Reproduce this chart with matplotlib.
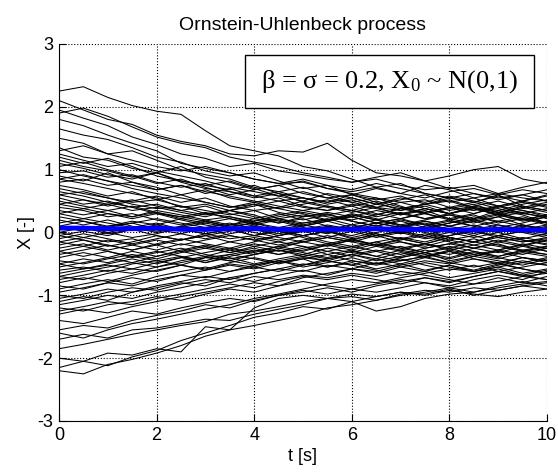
import matplotlib
matplotlib.use('Agg')
import matplotlib.pyplot as plt
from matplotlib.patches import Rectangle

# time grid [s]
t = [0.0, 0.5, 1.0, 1.5, 2.0, 2.5, 3.0, 3.5, 4.0, 4.5, 5.0,
     5.5, 6.0, 6.5, 7.0, 7.5, 8.0, 8.5, 9.0, 9.5, 10.0]

# sample paths (outer ones traced, inner band estimated)
paths = [
    [2.25, 2.32, 2.15, 2.02, 1.93, 1.88, 1.62, 1.38, 1.30, 1.22, 1.05, 0.98, 0.85, 0.72, 0.78, 0.62, 0.55, 0.48, 0.60, 0.42, 0.35],
    [2.10, 1.95, 1.80, 1.72, 1.55, 1.45, 1.38, 1.25, 1.22, 1.30, 1.28, 1.42, 1.15, 0.95, 0.90, 0.82, 0.70, 0.75, 0.62, 0.55, 0.50],
    [1.95, 1.82, 1.70, 1.52, 1.40, 1.25, 1.18, 1.05, 1.10, 0.98, 0.92, 0.85, 0.80, 0.88, 0.95, 0.82, 0.90, 1.00, 1.05, 0.85, 0.78],
    [1.80, 1.70, 1.55, 1.42, 1.30, 1.10, 1.02, 0.95, 0.85, 0.78, 0.80, 0.70, 0.62, 0.55, 0.48, 0.52, 0.40, 0.35, 0.42, 0.30, 0.25],
    [1.65, 1.55, 1.48, 1.35, 1.20, 1.12, 0.98, 0.90, 0.95, 0.82, 0.70, 0.75, 0.60, 0.52, 0.58, 0.45, 0.50, 0.38, 0.30, 0.40, 0.32],
    [1.50, 1.42, 1.25, 1.30, 1.15, 1.00, 0.92, 0.85, 0.72, 0.65, 0.72, 0.60, 0.48, 0.55, 0.42, 0.30, 0.38, 0.45, 0.32, 0.20, 0.28],
    [1.35, 1.20, 1.15, 1.02, 0.95, 1.05, 0.88, 0.80, 0.68, 0.75, 0.62, 0.55, 0.60, 0.48, 0.35, 0.42, 0.30, 0.22, 0.35, 0.28, 0.15],
    [1.20, 1.10, 1.18, 1.05, 0.90, 0.82, 0.75, 0.82, 0.70, 0.58, 0.50, 0.62, 0.55, 0.45, 0.52, 0.60, 0.48, 0.55, 0.42, 0.50, 0.58],
    [1.10, 1.02, 0.92, 0.85, 0.95, 0.80, 0.70, 0.65, 0.55, 0.62, 0.48, 0.40, 0.32, 0.40, 0.28, 0.35, 0.22, 0.15, 0.25, 0.12, 0.05],
    [1.05, 1.12, 1.00, 0.90, 0.78, 0.85, 0.72, 0.60, 0.68, 0.75, 0.82, 0.70, 0.65, 0.72, 0.62, 0.55, 0.65, 0.70, 0.60, 0.68, 0.62],
    [1.00, 0.90, 0.82, 0.70, 0.62, 0.55, 0.48, 0.40, 0.45, 0.32, 0.25, 0.30, 0.18, 0.10, 0.20, 0.12, 0.05, -0.05, 0.08, 0.00, -0.08],
    [0.95, 0.98, 0.88, 0.92, 0.80, 0.72, 0.78, 0.65, 0.58, 0.50, 0.55, 0.45, 0.52, 0.40, 0.35, 0.45, 0.52, 0.40, 0.32, 0.38, 0.45],
    [0.85, 0.78, 0.70, 0.62, 0.55, 0.40, 0.45, 0.35, 0.28, 0.15, 0.22, 0.10, 0.05, 0.12, -0.02, 0.05, -0.08, -0.15, -0.05, -0.12, -0.20],
    [0.80, 0.85, 0.75, 0.80, 0.68, 0.75, 0.62, 0.70, 0.58, 0.65, 0.55, 0.48, 0.60, 0.70, 0.62, 0.75, 0.68, 0.55, 0.62, 0.72, 0.80],
    [0.70, 0.62, 0.55, 0.48, 0.52, 0.42, 0.35, 0.28, 0.35, 0.22, 0.15, 0.20, 0.30, 0.22, 0.12, 0.05, 0.15, 0.25, 0.18, 0.10, 0.18],
    [0.60, 0.65, 0.55, 0.45, 0.38, 0.42, 0.30, 0.35, 0.45, 0.38, 0.30, 0.20, 0.25, 0.15, 0.22, 0.32, 0.40, 0.30, 0.42, 0.35, 0.25],
    [0.55, 0.45, 0.50, 0.40, 0.30, 0.25, 0.18, 0.10, 0.15, 0.05, -0.05, 0.02, -0.10, -0.05, -0.15, -0.22, -0.12, -0.20, -0.28, -0.18, -0.25],
    [0.45, 0.52, 0.42, 0.50, 0.58, 0.48, 0.55, 0.42, 0.35, 0.40, 0.50, 0.42, 0.35, 0.28, 0.38, 0.30, 0.22, 0.30, 0.40, 0.48, 0.40],
    [0.40, 0.35, 0.25, 0.30, 0.20, 0.12, 0.20, 0.25, 0.15, 0.08, 0.15, 0.22, 0.12, 0.05, 0.10, 0.18, 0.10, 0.02, -0.05, 0.02, 0.10],
    [0.30, 0.38, 0.45, 0.35, 0.40, 0.32, 0.25, 0.35, 0.42, 0.50, 0.40, 0.35, 0.45, 0.38, 0.30, 0.22, 0.28, 0.18, 0.25, 0.32, 0.22],
    [0.25, 0.18, 0.10, 0.15, 0.05, -0.02, 0.08, -0.05, -0.12, -0.05, 0.02, -0.08, -0.15, -0.22, -0.15, -0.25, -0.18, -0.10, -0.20, -0.28, -0.22],
    [0.15, 0.22, 0.30, 0.25, 0.35, 0.28, 0.20, 0.12, 0.18, 0.25, 0.32, 0.25, 0.18, 0.10, 0.18, 0.08, 0.15, 0.22, 0.30, 0.22, 0.15],
    [0.10, 0.02, -0.05, 0.05, 0.12, 0.05, -0.02, -0.10, -0.05, 0.05, 0.12, 0.20, 0.28, 0.20, 0.30, 0.38, 0.30, 0.42, 0.35, 0.45, 0.52],
    [0.05, 0.10, 0.00, -0.08, -0.02, 0.08, 0.15, 0.08, 0.00, -0.08, -0.15, -0.08, 0.02, 0.08, 0.00, -0.10, -0.05, 0.05, 0.12, 0.05, -0.02],
    [0.00, -0.08, -0.15, -0.10, -0.20, -0.12, -0.05, -0.15, -0.22, -0.30, -0.22, -0.35, -0.28, -0.38, -0.45, -0.38, -0.30, -0.42, -0.50, -0.40, -0.45],
    [-0.05, 0.02, 0.10, 0.18, 0.12, 0.22, 0.30, 0.25, 0.18, 0.28, 0.35, 0.28, 0.20, 0.28, 0.38, 0.45, 0.55, 0.48, 0.58, 0.50, 0.60],
    [-0.15, -0.22, -0.12, -0.20, -0.28, -0.18, -0.25, -0.15, -0.08, -0.15, -0.05, 0.02, -0.05, 0.05, -0.02, 0.08, 0.00, -0.08, 0.00, 0.08, 0.00],
    [-0.20, -0.12, -0.22, -0.15, -0.05, -0.12, -0.02, 0.05, -0.05, 0.02, -0.08, -0.18, -0.10, -0.20, -0.12, -0.05, -0.15, -0.25, -0.18, -0.30, -0.25],
    [-0.30, -0.38, -0.30, -0.40, -0.32, -0.25, -0.35, -0.42, -0.35, -0.28, -0.38, -0.30, -0.22, -0.30, -0.40, -0.32, -0.45, -0.38, -0.30, -0.40, -0.48],
    [-0.35, -0.28, -0.20, -0.28, -0.18, -0.10, -0.18, -0.25, -0.15, -0.05, 0.05, -0.02, 0.08, 0.15, 0.08, 0.18, 0.10, 0.20, 0.28, 0.18, 0.25],
    [-0.45, -0.50, -0.42, -0.35, -0.42, -0.32, -0.25, -0.32, -0.22, -0.15, -0.22, -0.30, -0.38, -0.30, -0.22, -0.32, -0.25, -0.35, -0.28, -0.20, -0.30],
    [-0.50, -0.42, -0.48, -0.38, -0.30, -0.38, -0.45, -0.35, -0.42, -0.50, -0.42, -0.55, -0.48, -0.58, -0.50, -0.60, -0.52, -0.62, -0.55, -0.65, -0.58],
    [-0.60, -0.55, -0.62, -0.50, -0.45, -0.52, -0.40, -0.35, -0.28, -0.35, -0.25, -0.18, -0.25, -0.15, -0.08, -0.15, -0.05, 0.02, -0.08, -0.15, -0.10],
    [-0.70, -0.75, -0.65, -0.58, -0.62, -0.52, -0.58, -0.48, -0.40, -0.48, -0.42, -0.35, -0.45, -0.52, -0.45, -0.38, -0.48, -0.55, -0.48, -0.58, -0.65],
    [-0.75, -0.68, -0.60, -0.65, -0.55, -0.48, -0.40, -0.45, -0.35, -0.28, -0.35, -0.25, -0.32, -0.22, -0.30, -0.38, -0.28, -0.35, -0.42, -0.32, -0.38],
    [-0.85, -0.90, -0.80, -0.85, -0.75, -0.68, -0.72, -0.62, -0.55, -0.62, -0.52, -0.45, -0.52, -0.60, -0.68, -0.62, -0.72, -0.65, -0.58, -0.68, -0.75],
    [-0.95, -0.88, -0.80, -0.72, -0.78, -0.68, -0.60, -0.52, -0.58, -0.48, -0.40, -0.45, -0.35, -0.28, -0.35, -0.25, -0.18, -0.25, -0.15, -0.22, -0.12],
    [-1.00, -1.05, -0.95, -0.88, -0.92, -0.82, -0.75, -0.80, -0.70, -0.75, -0.68, -0.72, -0.65, -0.70, -0.62, -0.68, -0.75, -0.82, -0.72, -0.80, -0.70],
    [-1.10, -1.02, -1.08, -0.95, -0.88, -0.80, -0.85, -0.72, -0.65, -0.58, -0.50, -0.55, -0.45, -0.50, -0.40, -0.32, -0.40, -0.30, -0.38, -0.28, -0.35],
    [-1.20, -1.25, -1.15, -1.10, -1.02, -1.08, -0.98, -0.90, -0.95, -0.85, -0.78, -0.85, -0.90, -0.82, -0.75, -0.80, -0.88, -0.95, -0.85, -0.78, -0.85],
    [-1.30, -1.22, -1.28, -1.18, -1.10, -1.02, -0.95, -0.88, -0.80, -0.85, -0.72, -0.65, -0.58, -0.62, -0.52, -0.45, -0.50, -0.42, -0.48, -0.40, -0.45],
    [-1.40, -1.45, -1.35, -1.25, -1.30, -1.20, -1.12, -1.05, -1.10, -1.00, -0.92, -0.98, -0.90, -0.95, -0.88, -0.80, -0.85, -0.75, -0.68, -0.75, -0.62],
    [-1.55, -1.48, -1.52, -1.40, -1.32, -1.25, -1.15, -1.20, -1.08, -1.00, -0.95, -0.88, -0.95, -0.85, -0.78, -0.72, -0.78, -0.70, -0.62, -0.68, -0.60],
    [-1.70, -1.62, -1.68, -1.55, -1.52, -1.45, -1.38, -1.40, -1.30, -1.22, -1.15, -1.05, -1.02, -1.08, -0.98, -0.92, -0.95, -0.88, -0.92, -0.85, -0.90],
    [-1.85, -1.78, -1.70, -1.62, -1.55, -1.48, -1.42, -1.30, -1.25, -1.18, -1.10, -1.05, -1.10, -1.25, -1.18, -1.05, -0.98, -0.95, -0.88, -0.82, -0.78],
    [-2.00, -2.05, -1.92, -1.95, -1.85, -1.90, -1.50, -1.55, -1.20, -1.05, -1.00, -1.05, -0.98, -1.02, -0.95, -1.00, -0.92, -0.98, -1.02, -0.95, -0.90],
    [-2.20, -2.25, -2.10, -2.02, -1.92, -1.80, -1.65, -1.55, -1.48, -1.40, -1.32, -1.20, -1.15, -1.08, -1.00, -0.95, -0.88, -0.82, -0.78, -0.70, -0.65],
    [-2.15, -2.05, -2.12, -1.98, -1.88, -1.72, -1.60, -1.48, -1.35, -1.28, -1.18, -1.22, -1.10, -1.02, -0.95, -0.98, -0.90, -1.00, -0.92, -0.85, -0.80],
    [-1.60, -1.68, -1.55, -1.45, -1.38, -1.30, -1.22, -1.15, -1.05, -0.98, -0.90, -0.82, -0.75, -0.80, -0.72, -0.65, -0.58, -0.62, -0.55, -0.48, -0.52],
    [1.90, 1.98, 1.85, 1.68, 1.52, 1.42, 1.35, 1.20, 1.12, 1.05, 0.95, 0.88, 0.80, 0.85, 0.75, 0.68, 0.72, 0.62, 0.55, 0.60, 0.50],
    [0.90, 0.82, 0.95, 0.80, 0.72, 0.60, 0.68, 0.55, 0.48, 0.55, 0.42, 0.35, 0.42, 0.30, 0.22, 0.30, 0.20, 0.28, 0.15, 0.22, 0.12],
    [0.75, 0.68, 0.58, 0.65, 0.52, 0.60, 0.48, 0.40, 0.48, 0.38, 0.45, 0.52, 0.42, 0.50, 0.40, 0.32, 0.40, 0.48, 0.38, 0.30, 0.38],
    [0.65, 0.58, 0.48, 0.40, 0.45, 0.35, 0.42, 0.30, 0.22, 0.30, 0.20, 0.28, 0.35, 0.25, 0.32, 0.22, 0.30, 0.38, 0.28, 0.35, 0.28],
    [0.50, 0.42, 0.35, 0.42, 0.32, 0.25, 0.32, 0.22, 0.15, 0.22, 0.28, 0.18, 0.25, 0.15, 0.08, 0.15, 0.05, 0.12, 0.02, 0.10, 0.05],
    [0.35, 0.28, 0.35, 0.25, 0.32, 0.22, 0.15, 0.22, 0.12, 0.20, 0.10, 0.18, 0.08, 0.15, 0.22, 0.12, 0.20, 0.10, 0.18, 0.25, 0.15],
    [0.20, 0.12, 0.20, 0.10, 0.02, 0.10, 0.18, 0.08, 0.15, 0.22, 0.12, 0.05, 0.12, 0.20, 0.10, 0.02, 0.10, 0.18, 0.08, 0.15, 0.25],
    [0.10, 0.18, 0.08, 0.15, 0.22, 0.15, 0.08, 0.15, 0.05, -0.02, 0.05, 0.12, 0.05, -0.05, 0.02, -0.08, 0.00, 0.08, 0.00, -0.10, -0.02],
    [-0.10, -0.02, -0.10, -0.18, -0.10, -0.02, -0.10, -0.02, 0.05, -0.05, 0.02, 0.10, 0.02, -0.08, 0.00, 0.10, 0.18, 0.10, 0.02, 0.12, 0.05],
    [-0.25, -0.18, -0.28, -0.20, -0.12, -0.20, -0.12, -0.05, -0.12, -0.20, -0.12, -0.05, -0.12, -0.02, -0.10, -0.18, -0.08, -0.15, -0.05, -0.12, -0.18],
    [-0.40, -0.32, -0.40, -0.30, -0.38, -0.28, -0.20, -0.28, -0.18, -0.25, -0.15, -0.22, -0.12, -0.20, -0.28, -0.18, -0.25, -0.15, -0.22, -0.30, -0.22],
    [-0.55, -0.48, -0.40, -0.48, -0.38, -0.30, -0.38, -0.28, -0.35, -0.25, -0.32, -0.40, -0.30, -0.38, -0.28, -0.35, -0.42, -0.32, -0.40, -0.48, -0.40],
    [-0.65, -0.58, -0.52, -0.58, -0.48, -0.40, -0.48, -0.38, -0.30, -0.22, -0.30, -0.20, -0.12, -0.20, -0.10, -0.18, -0.08, -0.15, -0.05, 0.02, -0.05],
    [-0.80, -0.72, -0.78, -0.68, -0.60, -0.52, -0.60, -0.50, -0.55, -0.45, -0.38, -0.45, -0.52, -0.42, -0.50, -0.40, -0.48, -0.38, -0.45, -0.52, -0.42],
    [-0.90, -0.82, -0.75, -0.82, -0.70, -0.62, -0.55, -0.62, -0.52, -0.45, -0.52, -0.42, -0.35, -0.42, -0.32, -0.40, -0.30, -0.38, -0.28, -0.35, -0.25],
    [-1.05, -0.98, -0.90, -0.95, -0.85, -0.78, -0.70, -0.75, -0.65, -0.58, -0.62, -0.52, -0.58, -0.48, -0.55, -0.62, -0.52, -0.60, -0.50, -0.58, -0.65],
    [-1.15, -1.08, -1.00, -1.05, -0.95, -0.88, -0.80, -0.72, -0.78, -0.68, -0.60, -0.68, -0.58, -0.65, -0.55, -0.48, -0.55, -0.62, -0.52, -0.45, -0.52],
    [1.15, 1.05, 0.98, 0.88, 0.95, 0.82, 0.75, 0.68, 0.75, 0.62, 0.55, 0.48, 0.55, 0.45, 0.38, 0.45, 0.35, 0.42, 0.50, 0.40, 0.48],
    [1.25, 1.15, 1.05, 1.10, 0.98, 0.90, 0.82, 0.72, 0.65, 0.58, 0.65, 0.55, 0.48, 0.40, 0.48, 0.38, 0.30, 0.38, 0.28, 0.20, 0.28],
    [0.00, 0.08, -0.02, 0.05, -0.05, -0.12, -0.05, 0.02, 0.10, 0.02, 0.10, 0.18, 0.28, 0.20, 0.12, 0.20, 0.28, 0.20, 0.12, 0.05, 0.12],
    [-0.30, -0.22, -0.30, -0.38, -0.45, -0.38, -0.48, -0.40, -0.50, -0.42, -0.35, -0.42, -0.35, -0.45, -0.38, -0.28, -0.35, -0.25, -0.32, -0.22, -0.30],
    [0.45, 0.38, 0.30, 0.22, 0.30, 0.20, 0.12, 0.05, 0.12, 0.02, -0.05, 0.02, -0.08, 0.00, 0.08, 0.00, -0.08, -0.15, -0.08, -0.15, -0.08],
    [-0.50, -0.58, -0.50, -0.42, -0.50, -0.40, -0.32, -0.25, -0.32, -0.22, -0.15, -0.08, -0.15, -0.05, 0.02, -0.05, 0.05, -0.02, 0.08, 0.00, 0.08],
    [0.60, 0.52, 0.45, 0.52, 0.42, 0.35, 0.28, 0.35, 0.25, 0.18, 0.08, 0.00, 0.08, -0.02, -0.10, -0.02, -0.12, -0.05, -0.15, -0.08, -0.15],
    [-0.70, -0.62, -0.55, -0.48, -0.55, -0.45, -0.38, -0.45, -0.52, -0.45, -0.55, -0.48, -0.40, -0.50, -0.42, -0.52, -0.60, -0.52, -0.62, -0.55, -0.48],
    [0.30, 0.22, 0.15, 0.08, 0.15, 0.05, -0.02, 0.05, -0.05, -0.12, -0.05, -0.15, -0.22, -0.15, -0.25, -0.18, -0.28, -0.20, -0.12, -0.20, -0.12],
    [-0.15, -0.08, 0.00, 0.08, 0.00, 0.10, 0.02, 0.12, 0.22, 0.15, 0.25, 0.32, 0.25, 0.35, 0.28, 0.38, 0.30, 0.40, 0.32, 0.42, 0.35],
    [0.85, 0.92, 0.82, 0.75, 0.68, 0.75, 0.65, 0.58, 0.50, 0.42, 0.35, 0.42, 0.35, 0.45, 0.55, 0.48, 0.58, 0.50, 0.42, 0.50, 0.42],
    [-1.25, -1.18, -1.10, -1.15, -1.05, -0.98, -0.90, -0.82, -0.88, -0.78, -0.70, -0.75, -0.68, -0.75, -0.82, -0.72, -0.80, -0.70, -0.62, -0.70, -0.75],
    [1.30, 1.38, 1.25, 1.15, 1.05, 0.98, 1.05, 0.95, 0.85, 0.78, 0.85, 0.75, 0.68, 0.78, 0.70, 0.62, 0.55, 0.62, 0.52, 0.60, 0.68],
    [-0.05, -0.12, -0.20, -0.28, -0.20, -0.30, -0.22, -0.32, -0.25, -0.35, -0.28, -0.20, -0.28, -0.18, -0.25, -0.32, -0.22, -0.30, -0.38, -0.30, -0.35],
]

# mean of the paths (blue)
mean_path = [0.07, 0.07, 0.06, 0.06, 0.07, 0.05, 0.05, 0.06, 0.06, 0.05, 0.04,
             0.05, 0.05, 0.06, 0.05, 0.05, 0.04, 0.04, 0.05, 0.04, 0.04]

xticks = [0, 2, 4, 6, 8, 10]
yticks = [-3, -2, -1, 0, 1, 2, 3]

plt.rcParams['font.family'] = ['Liberation Sans', 'DejaVu Sans']
plt.rcParams['axes.unicode_minus'] = False
plt.rcParams['mathtext.fontset'] = 'custom'
plt.rcParams['mathtext.rm'] = 'Liberation Serif'
plt.rcParams['mathtext.it'] = 'Liberation Serif:italic'

fig = plt.figure(figsize=(5.58, 4.75), dpi=100)
ax = fig.add_axes([0.1057, 0.1137, 0.8746, 0.7937])

for p in paths:
    ax.plot(t, p, color='black', linewidth=0.75)
ax.plot(t, mean_path, color='#0000ff', linewidth=3.5)

ax.set_xlim(0, 10)
ax.set_ylim(-3, 3)
ax.set_xticks(xticks)
ax.set_yticks(yticks)
ax.tick_params(direction='in', labelsize=13, length=5, pad=4)
ax.grid(True, linestyle=':', color='black', linewidth=0.8)
ax.spines['top'].set_visible(False)
ax.spines['right'].set_visible(False)

ax.set_title('Ornstein-Uhlenbeck process', fontsize=14, pad=10)
ax.set_xlabel('t [s]', fontsize=13, labelpad=3)
ax.set_ylabel('X [-]', fontsize=13, labelpad=2)

# annotation box
ax.add_patch(Rectangle((0.381, 0.830), 0.592, 0.141, transform=ax.transAxes,
                       facecolor='white', edgecolor='black', linewidth=1, zorder=5))
ax.text(0.677, 0.900, r'β = σ = 0.2, X$_0$ ~ N(0,1)', transform=ax.transAxes,
        ha='center', va='center', fontsize=19, family='Liberation Serif', zorder=6)

fig.savefig('out.png', dpi=100)
